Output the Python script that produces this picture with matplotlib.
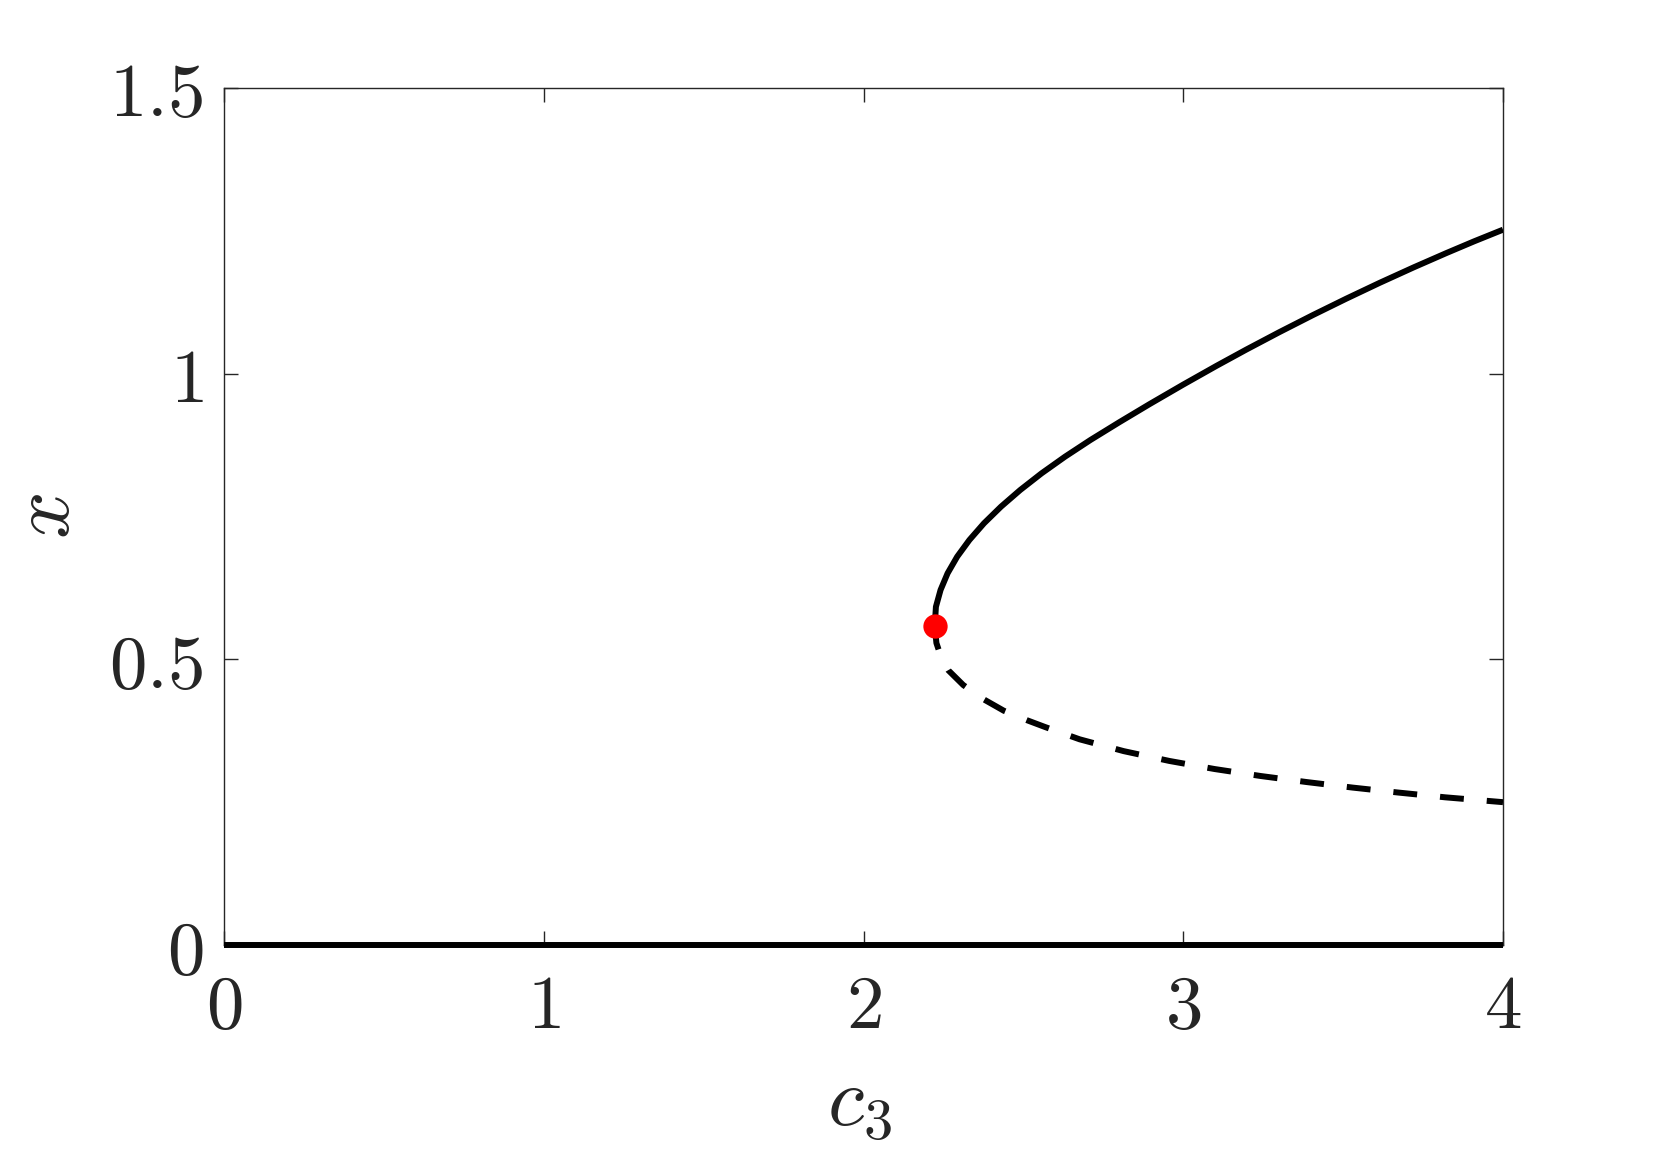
import matplotlib
matplotlib.use('Agg')
import matplotlib.pyplot as plt

plt.rcParams['mathtext.fontset'] = 'cm'

# Data
c3_stable = [2.2228, 2.2265, 2.2410, 2.2630, 2.2930, 2.3312, 2.3768, 2.4300,
             2.4902, 2.5570, 2.6303, 2.7097, 2.80, 2.895, 3.0, 3.104, 3.197,
             3.30, 3.4056, 3.51, 3.614, 3.72, 3.8225, 3.91, 4.0]
x_stable = [0.5584, 0.592, 0.6214, 0.6506, 0.6797, 0.7089, 0.7381, 0.7672,
            0.7964, 0.8256, 0.8547, 0.8839, 0.9150, 0.9468, 0.9809, 1.0137,
            1.0421, 1.0725, 1.1026, 1.1313, 1.1589, 1.1859, 1.2110, 1.2317,
            1.2520]

c3_unstable = [2.2228, 2.228, 2.245, 2.265, 2.312, 2.376, 2.439, 2.511, 2.568,
               2.676, 2.814, 2.957, 3.098, 3.242, 3.386, 3.530, 3.673, 3.819, 4.0]
x_unstable = [0.5584, 0.5286, 0.500, 0.481, 0.455, 0.430, 0.410, 0.3935, 0.3815,
              0.360, 0.3393, 0.3221, 0.3080, 0.2958, 0.2852, 0.2755, 0.2668,
              0.2585, 0.2500]

c3_trivial = [0.0, 4.0]
x_trivial = [0.0, 0.0]

fold_c3 = [2.2228]
fold_x = [0.5584]

xticks = [0, 1, 2, 3, 4]
xtick_labels = ['$0$', '$1$', '$2$', '$3$', '$4$']
yticks = [0, 0.5, 1, 1.5]
ytick_labels = ['$0$', '$0.5$', '$1$', '$1.5$']

W, H = 1661, 1157
fig = plt.figure(figsize=(W / 100, H / 100), dpi=100)
L, R, T, B = 224, 1503, 88, 945
ax = fig.add_axes([L / W, 1 - B / H, (R - L) / W, (B - T) / H])

axis_col = '#262626'
lw = 4.3
ax.plot(c3_trivial, x_trivial, color='k', lw=lw, clip_on=False,
        solid_capstyle='butt', zorder=4)
ax.plot(c3_stable, x_stable, color='k', lw=lw, solid_capstyle='butt',
        solid_joinstyle='round', zorder=3)
ax.plot(c3_unstable, x_unstable, color='k', lw=lw, dashes=(4.0, 3.85),
        dash_capstyle='butt', dash_joinstyle='round', zorder=3)
ax.plot(fold_c3, fold_x, 'o', color='red', ms=17.5, mew=0, zorder=5)

ax.set_xlim(0, 4)
ax.set_ylim(0, 1.5)
ax.set_xticks(xticks)
ax.set_xticklabels(xtick_labels)
ax.set_yticks(yticks)
ax.set_yticklabels(ytick_labels)

for s in ax.spines.values():
    s.set_color(axis_col)
    s.set_linewidth(1.0)

ax.tick_params(axis='both', which='both', direction='in', length=10, width=1.0,
               color=axis_col, labelcolor=axis_col, labelsize=54,
               top=True, right=True)
ax.tick_params(axis='x', pad=19)
ax.tick_params(axis='y', pad=15)

ax.set_xlabel('$c_3$', fontsize=60, color=axis_col)
ax.set_ylabel('$x$', fontsize=60, color=axis_col)
ax.xaxis.label.set_va('center')
ax.yaxis.label.set_va('center')
ax.xaxis.set_label_coords(0.497, -(1102 - B) / (B - T))
ax.yaxis.set_label_coords((46 - L) / (R - L), 0.5)

fig.savefig('out.png', dpi=100, facecolor='white')
